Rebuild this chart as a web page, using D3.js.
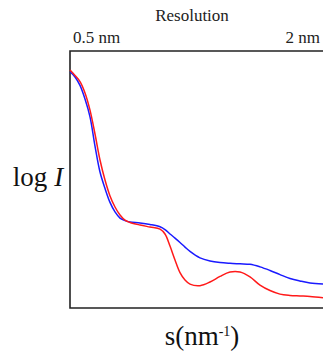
<!DOCTYPE html>
<html>
<head>
<meta charset="utf-8">
<script src="https://cdn.jsdelivr.net/npm/d3@7"></script>
<style>
  html, body { margin: 0; padding: 0; background: #fff; }
  svg { display: block; }
</style>
</head>
<body>
<div id="chart"></div>
<script>
'use strict';

// scattering vector s (nm^-1), shared by both curves
var sValues = [0, 0.05, 0.10, 0.15, 0.20, 0.25, 0.30, 0.35, 0.40, 0.45, 0.50, 0.55, 0.60,
  0.70, 0.80, 0.90, 0.95, 1.00, 1.05, 1.10, 1.15, 1.20, 1.30, 1.40, 1.50, 1.60, 1.70,
  1.80, 1.90, 2.00, 2.10, 2.20, 2.30, 2.40, 2.53];

var redLogI = [9.26, 9.05, 8.81, 8.37, 7.70, 6.77, 5.76, 4.98, 4.36, 3.93, 3.62, 3.42, 3.33,
  3.23, 3.15, 3.07, 2.88, 2.41, 1.87, 1.38, 1.09, 0.93, 0.87, 1.01, 1.23, 1.40, 1.40,
  1.21, 0.89, 0.68, 0.54, 0.49, 0.47, 0.45, 0.40];

var blueLogI = [9.19, 8.99, 8.66, 8.13, 7.44, 6.30, 5.29, 4.65, 4.11, 3.74, 3.50, 3.40, 3.35,
  3.31, 3.25, 3.16, 3.05, 2.88, 2.72, 2.55, 2.37, 2.20, 1.95, 1.83, 1.77, 1.74, 1.72,
  1.70, 1.60, 1.46, 1.30, 1.15, 1.05, 0.97, 0.93];

var resolutionLabels = ['0.5 nm', '2 nm'];

var width = 323;
var height = 351;
var plot = { left: 70, top: 51, right: 323, bottom: 308 };

var svg = d3.select('#chart')
  .append('svg')
  .attr('width', width)
  .attr('height', height);

var x = d3.scaleLinear()
  .domain([0, 2.53])
  .range([plot.left, plot.right]);

var y = d3.scaleLinear()
  .domain([0, 10])
  .range([plot.bottom, plot.top]);

var serif = '"Liberation Serif", "Times New Roman", serif';

// frame: top, left and bottom edges (right edge runs off the picture)
svg.append('path')
  .attr('d', 'M' + (plot.right + 5) + ',' + plot.top +
    'H' + plot.left + 'V' + plot.bottom + 'H' + (plot.right + 5))
  .attr('fill', 'none')
  .attr('stroke', '#222')
  .attr('stroke-width', 1.6);

var line = function (values) {
  return d3.line()
    .x(function (d, i) { return x(sValues[i]); })
    .y(function (d) { return y(d); })
    .curve(d3.curveCatmullRom.alpha(0.5))(values);
};

svg.append('path')
  .attr('d', line(blueLogI))
  .attr('fill', 'none')
  .attr('stroke', '#1a1aff')
  .attr('stroke-width', 1.5);

svg.append('path')
  .attr('d', line(redLogI))
  .attr('fill', 'none')
  .attr('stroke', '#ff1a1a')
  .attr('stroke-width', 1.5);

svg.append('text')
  .text('Resolution')
  .attr('x', 192)
  .attr('y', 21)
  .attr('text-anchor', 'middle')
  .attr('font-family', serif)
  .attr('font-size', 17)
  .attr('fill', '#222');

svg.selectAll('.res-label')
  .data(resolutionLabels).enter()
  .append('text')
  .attr('class', 'res-label')
  .text(function (d) { return d; })
  .attr('x', function (d, i) { return i === 0 ? plot.left + 3 : plot.right - 3; })
  .attr('y', 43)
  .attr('text-anchor', function (d, i) { return i === 0 ? 'start' : 'end'; })
  .attr('font-family', serif)
  .attr('font-size', 17)
  .attr('fill', '#222');

var yLabel = svg.append('text')
  .attr('x', 38)
  .attr('y', 186)
  .attr('text-anchor', 'middle')
  .attr('font-family', serif)
  .attr('font-size', 27)
  .attr('fill', '#111');
yLabel.append('tspan').text('log ');
yLabel.append('tspan').attr('font-style', 'italic').text('I');

var xLabel = svg.append('text')
  .attr('x', 202)
  .attr('y', 345)
  .attr('text-anchor', 'middle')
  .attr('font-family', serif)
  .attr('font-size', 27)
  .attr('fill', '#111');
xLabel.append('tspan').text('s(nm');
xLabel.append('tspan').attr('font-size', 14).attr('dy', -9).text('-1');
xLabel.append('tspan').attr('dy', 9).text(')');
</script>
</body>
</html>
